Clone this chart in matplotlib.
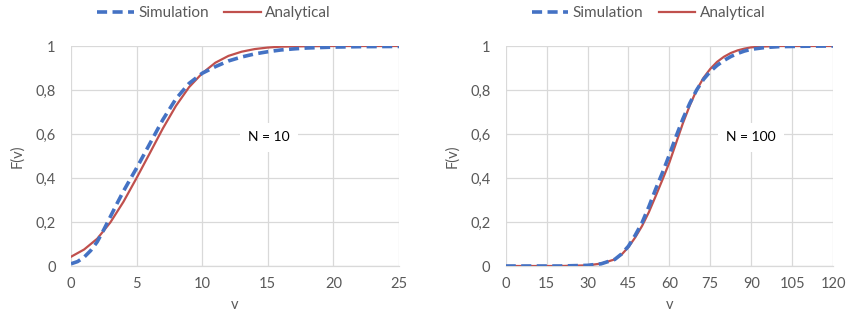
import matplotlib
matplotlib.use("Agg")
import matplotlib.pyplot as plt
from matplotlib.ticker import FuncFormatter

plt.rcParams['font.family'] = ['Lato', 'DejaVu Sans']

# Left panel (N = 10)
v10_sim = [0, 0.5, 1, 1.5, 2, 2.5, 3, 3.5, 4, 4.5, 5, 5.5, 6, 7, 8, 9, 10, 11, 12, 13, 14, 15, 16, 17, 18, 20, 22, 25]
sim10 = [0.01, 0.02, 0.04, 0.07, 0.11, 0.165, 0.224, 0.283, 0.34, 0.393, 0.445, 0.5, 0.555, 0.665, 0.76, 0.83, 0.876, 0.906, 0.932, 0.95, 0.964, 0.974, 0.982, 0.987, 0.991, 0.995, 0.997, 0.998]
v10_ana = [0, 1, 2, 3, 4, 5, 6, 7, 8, 9, 10, 11, 12, 13, 14, 15, 16, 18, 20, 25]
ana10 = [0.042, 0.075, 0.124, 0.198, 0.292, 0.40, 0.512, 0.625, 0.728, 0.813, 0.876, 0.924, 0.955, 0.974, 0.986, 0.993, 0.997, 0.999, 1.0, 1.0]

# Right panel (N = 100)
v100 = [0, 10, 20, 30, 35, 40, 42.5, 45, 47.5, 50, 52.5, 55, 57.5, 60, 62.5, 65, 67.5, 70,
        72.5, 75, 77.5, 80, 82.5, 85, 87.5, 90, 95, 100, 110, 120]
sim100 = [0.0, 0.0, 0.0, 0.003, 0.01, 0.03, 0.055, 0.09, 0.14, 0.197, 0.27, 0.35, 0.425, 0.505, 0.59, 0.67, 0.74, 0.8,
          0.848, 0.884, 0.912, 0.934, 0.952, 0.966, 0.977, 0.985, 0.993, 0.997, 0.999, 1.0]
ana100 = [0.0, 0.0, 0.0, 0.003, 0.011, 0.03, 0.052, 0.086, 0.13, 0.182, 0.245, 0.318, 0.393, 0.47, 0.56, 0.65, 0.73, 0.8,
          0.855, 0.896, 0.928, 0.951, 0.968, 0.98, 0.988, 0.994, 0.998, 1.0, 1.0, 1.0]

xticks10 = [0, 5, 10, 15, 20, 25]
xticks100 = [0, 15, 30, 45, 60, 75, 90, 105, 120]
yticks = [0, 0.2, 0.4, 0.6, 0.8, 1.0]

BLUE = '#4472C4'
RED = '#C0504D'
GRAY = '#595959'
GRID = '#D9D9D9'

fig = plt.figure(figsize=(8.49, 3.2), dpi=100)
ax1 = fig.add_axes([0.0836, 0.16875, 0.3864, 0.6875])
ax2 = fig.add_axes([0.5956, 0.16875, 0.3856, 0.6875])

def fmt(y, pos):
    if abs(y) < 1e-9:
        return '0'
    if abs(y - 1) < 1e-9:
        return '1'
    return ('%.1f' % y).replace('.', ',')

panels = [
    (ax1, v10_sim, sim10, v10_ana, ana10, xticks10, (0, 25), 'N = 10', 15.1, 0.252),
    (ax2, v100, sim100, v100, ana100, xticks100, (0, 120), 'N = 100', 89.8, 0.764),
]

for ax, xs, s, xa, a, xt, xl, label, tx, legx in panels:
    ax.plot(xa, a, color=RED, lw=1.6, label='Analytical', zorder=3)
    ax.plot(xs, s, color=BLUE, lw=2.6, ls=(0, (2.8, 1.5)), label='Simulation', zorder=4)
    ax.set_xlim(*xl)
    ax.set_ylim(0, 1)
    ax.set_xticks(xt)
    ax.set_yticks(yticks)
    ax.yaxis.set_major_formatter(FuncFormatter(fmt))
    ax.grid(True, color=GRID, lw=0.9)
    ax.set_axisbelow(True)
    for sp in ['top', 'right', 'left']:
        ax.spines[sp].set_visible(False)
    ax.spines['bottom'].set_color(GRID)
    ax.spines['bottom'].set_linewidth(0.9)
    ax.tick_params(length=0, labelsize=10.5, colors=GRAY, pad=8)
    ax.tick_params(axis='y', pad=11)
    ax.set_xlabel('v', fontsize=10.5, color=GRAY, labelpad=5)
    ax.set_ylabel('F(v)', fontsize=10.5, color=GRAY, labelpad=8)
    ax.text(tx, 0.585, label, ha='center', va='center', fontsize=10, color='black',
            bbox=dict(facecolor='white', edgecolor='none', pad=6), zorder=5)
    h, l = ax.get_legend_handles_labels()
    fig.legend([h[1], h[0]], [l[1], l[0]], loc='center', bbox_to_anchor=(legx, 0.958),
               ncol=2, frameon=False, fontsize=11, labelcolor=GRAY, handlelength=2.4,
               columnspacing=1.0, handletextpad=0.3, borderaxespad=0, borderpad=0)

fig.savefig('out.png', dpi=100)
